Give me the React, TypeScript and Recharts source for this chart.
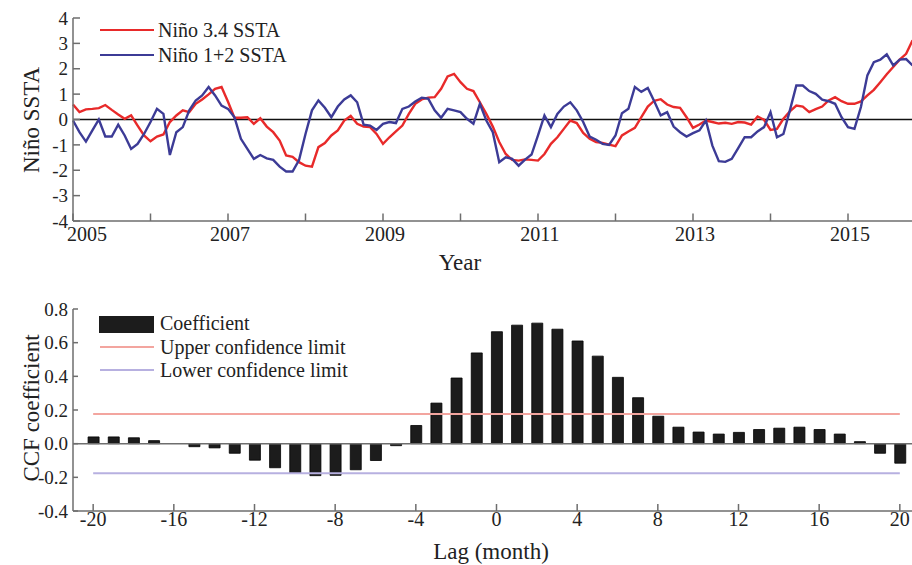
import { Bar, ComposedChart, Line, LineChart, ReferenceLine, XAxis, YAxis } from "recharts"

// monthly SSTA, Jan 2005 .. Nov 2015
const startYear = 2005
const nino34 = [
  0.59, 0.29, 0.4, 0.42, 0.45, 0.57, 0.38, 0.2, 0.03, 0.16,
  -0.24, -0.63, -0.86, -0.67, -0.59, -0.1, 0.16, 0.36, 0.29, 0.62,
  0.79, 0.99, 1.21, 1.28, 0.7, 0.07, 0.07, 0.09, -0.17, 0.05,
  -0.28, -0.5, -0.83, -1.42, -1.47, -1.68, -1.82, -1.86, -1.09, -0.93,
  -0.63, -0.43, -0.04, 0.14, -0.17, -0.28, -0.3, -0.57, -0.96, -0.7,
  -0.47, -0.24, 0.22, 0.62, 0.79, 0.86, 0.88, 1.21, 1.7, 1.8,
  1.47, 1.21, 1.12, 0.68, 0.22, -0.28, -0.89, -1.36, -1.59, -1.62,
  -1.57, -1.59, -1.62, -1.36, -0.96, -0.7, -0.37, -0.04, -0.14, -0.53,
  -0.76, -0.89, -0.92, -0.99, -1.05, -0.63, -0.47, -0.33, 0.09, 0.51,
  0.74, 0.8, 0.59, 0.49, 0.46, 0.09, -0.33, -0.2, -0.04, -0.1,
  -0.16, -0.13, -0.17, -0.1, -0.12, -0.2, 0.12, -0.01, -0.41, -0.37,
  0.03, 0.32, 0.55, 0.51, 0.29, 0.41, 0.51, 0.75, 0.88, 0.72,
  0.62, 0.62, 0.71, 0.95, 1.17, 1.47, 1.78, 2.07, 2.36, 2.59, 3.12,
]
const nino12 = [
  -0.04, -0.5, -0.87, -0.43, 0.0, -0.67, -0.67, -0.2, -0.63, -1.16,
  -0.96, -0.57, -0.1, 0.42, 0.22, -1.4, -0.5, -0.3, 0.36, 0.75,
  0.95, 1.28, 0.95, 0.55, 0.42, 0.09, -0.76, -1.16, -1.55, -1.4,
  -1.53, -1.59, -1.86, -2.05, -2.05, -1.6, -0.57, 0.36, 0.75, 0.46,
  0.09, 0.51, 0.79, 0.95, 0.68, -0.2, -0.24, -0.41, -0.17, -0.1,
  -0.14, 0.42, 0.51, 0.71, 0.86, 0.82, 0.36, 0.07, 0.42, 0.36,
  0.29, 0.03, -0.17, 0.62, -0.04, -0.5, -1.68, -1.49, -1.55, -1.82,
  -1.58, -1.38, -0.63, 0.16, -0.3, 0.22, 0.51, 0.68, 0.36, -0.1,
  -0.67, -0.8, -0.96, -1.0, -0.63, 0.25, 0.42, 1.28, 1.09, 1.24,
  0.72, 0.16, 0.29, -0.28, -0.5, -0.67, -0.54, -0.43, -0.04, -1.03,
  -1.64, -1.67, -1.55, -1.13, -0.7, -0.7, -0.47, -0.3, 0.29, -0.7,
  -0.57, 0.36, 1.34, 1.34, 1.12, 1.01, 0.78, 0.72, 0.62, 0.09,
  -0.3, -0.37, 0.49, 1.74, 2.26, 2.36, 2.57, 2.13, 2.36, 2.38, 2.13,
]
const yearTicks = [2005, 2006, 2007, 2008, 2009, 2010, 2011, 2012, 2013, 2014, 2015, 2016]
const sstaTicks = [-4, -3, -2, -1, 0, 1, 2, 3, 4]

const lags = [
  -20, -19, -18, -17, -16, -15, -14, -13, -12, -11, -10, -9, -8, -7, -6, -5, -4, -3, -2, -1,
  0, 1, 2, 3, 4, 5, 6, 7, 8, 9, 10, 11, 12, 13, 14, 15, 16, 17, 18, 19, 20,
]
const ccf = [
  0.04, 0.04, 0.035, 0.018, 0.0, -0.018, -0.025, -0.057, -0.098, -0.143, -0.175, -0.19, -0.188, -0.155, -0.1, -0.012, 0.108, 0.241, 0.39, 0.539,
  0.665, 0.704, 0.716, 0.68, 0.61, 0.52, 0.394, 0.273, 0.163, 0.098, 0.069, 0.057, 0.067, 0.084, 0.092, 0.098, 0.084, 0.057, 0.012, -0.057, -0.116,
]
const upperLimit = 0.176
const lowerLimit = -0.176
const lagTicks = [-20, -16, -12, -8, -4, 0, 4, 8, 12, 16, 20]
const ccfTicks = [-0.4, -0.2, 0, 0.2, 0.4, 0.6, 0.8]

const topData = nino34.map((v, i) => ({ t: startYear + i / 12, n34: v, n12: nino12[i] }))
const ccfData = lags.map((lag, i) => ({ lag, ccf: ccf[i], upper: upperLimit, lower: lowerLimit }))

const serif = "'Liberation Serif', 'Times New Roman', serif"
const axisColor = "#6e6e6e"
const textColor = "#222"
const red = "#e82a2a"
const blue = "#3c3b96"
const pink = "#f3a59f"
const lavender = "#b7b0e0"

function bottomTick(len: number, gap: number, fontSize: number, fmt: (v: number) => string, shift: (v: number) => number = () => 0) {
  return (props: any) => {
    const { x, y, payload } = props
    const label = fmt(payload.value)
    return (
      <g>
        <line x1={x} y1={y} x2={x} y2={y - len} stroke={axisColor} strokeWidth={1.5} />
        {label && (
          <text x={x + shift(payload.value)} y={y + gap} dy="0.71em" textAnchor="middle" fontFamily={serif} fontSize={fontSize} fill={textColor}>
            {label}
          </text>
        )}
      </g>
    )
  }
}

function leftTick(len: number, gap: number, fontSize: number, fmt: (v: number) => string) {
  return (props: any) => {
    const { x, y, payload } = props
    return (
      <g>
        <line x1={x} y1={y} x2={x + len} y2={y} stroke={axisColor} strokeWidth={1.5} />
        <text x={x - gap} y={y} dy="0.35em" textAnchor="end" fontFamily={serif} fontSize={fontSize} fill={textColor}>
          {fmt(payload.value)}
        </text>
      </g>
    )
  }
}

const txt = (left: number, top: number, size: number, s: string, rotate = false) => (
  <div
    style={{
      position: "absolute",
      left,
      top,
      transform: rotate ? "translate(-50%, -50%) rotate(-90deg)" : "translate(-50%, -50%)",
      fontFamily: serif,
      fontSize: size,
      color: textColor,
      whiteSpace: "nowrap",
      lineHeight: 1,
    }}
  >
    {s}
  </div>
)

const legendText = (left: number, top: number, s: string) => (
  <div
    style={{
      position: "absolute",
      left,
      top,
      transform: "translateY(-50%)",
      fontFamily: serif,
      fontSize: 20,
      color: textColor,
      whiteSpace: "nowrap",
      lineHeight: 1,
    }}
  >
    {s}
  </div>
)

const swatch = (top: number, color: string, h: number) => (
  <div style={{ position: "absolute", left: 100, top: top - h / 2, width: 54, height: h, background: color }} />
)

export default function App() {
  return (
    <div style={{ position: "absolute", left: 0, top: 0, width: 912, height: 565, overflow: "hidden", background: "#fff" }}>
      <div style={{ position: "absolute", left: 0, top: 0 }}>
        <LineChart width={940} height={260} data={topData} margin={{ top: 18, right: 14.5, bottom: 0, left: 33 }}>
          <XAxis
            dataKey="t"
            type="number"
            domain={[2005, 2016]}
            ticks={yearTicks}
            height={39}
            stroke={axisColor}
            strokeWidth={1.5}
            tickLine={false}
            tickSize={0}
            tickMargin={0}
            interval={0}
            tick={bottomTick(7.5, 6, 20, (v) => (v % 2 === 1 ? String(v) : ""), (v) => (v === 2005 ? 14 : 2))}
          />
          <YAxis
            type="number"
            domain={[-4, 4]}
            ticks={sstaTicks}
            width={40}
            stroke={axisColor}
            strokeWidth={1.5}
            tickLine={false}
            tickSize={0}
            tickMargin={0}
            interval={0}
            tick={leftTick(7, 5, 19, (v) => String(v))}
          />
          <ReferenceLine y={0} stroke="#111" strokeWidth={1.6} />
          <Line type="linear" dataKey="n34" stroke={red} strokeWidth={2.4} dot={false} isAnimationActive={false} />
          <Line type="linear" dataKey="n12" stroke={blue} strokeWidth={2.4} dot={false} isAnimationActive={false} />
        </LineChart>
      </div>

      {swatch(30, red, 2.5)}
      {legendText(158, 30, "Niño 3.4 SSTA")}
      {swatch(55, blue, 2.5)}
      {legendText(158, 55, "Niño 1+2 SSTA")}
      {txt(31, 120, 23, "Niño SSTA", true)}
      {txt(460, 262, 23, "Year")}

      <div style={{ position: "absolute", left: 0, top: 290 }}>
        <ComposedChart width={940} height={261} data={ccfData} margin={{ top: 19, right: 20, bottom: 0, left: 33 }}>
          <XAxis
            dataKey="lag"
            type="number"
            domain={[-21, 21]}
            ticks={lagTicks}
            height={40}
            stroke={axisColor}
            strokeWidth={1.5}
            tickLine={false}
            tickSize={0}
            tickMargin={0}
            interval={0}
            tick={bottomTick(7, 1, 20, (v) => String(v))}
          />
          <YAxis
            type="number"
            domain={[-0.4, 0.8]}
            ticks={ccfTicks}
            width={40}
            stroke={axisColor}
            strokeWidth={1.5}
            tickLine={false}
            tickSize={0}
            tickMargin={0}
            interval={0}
            tick={leftTick(5, 5, 19, (v) => v.toFixed(1))}
          />
          <ReferenceLine y={0} stroke={axisColor} strokeWidth={1.5} />
          <Bar dataKey="ccf" fill="#1c1c1c" stroke="#000" strokeWidth={0.8} barSize={11} isAnimationActive={false} />
          <Line type="linear" dataKey="upper" stroke={pink} strokeWidth={2} dot={false} isAnimationActive={false} />
          <Line type="linear" dataKey="lower" stroke={lavender} strokeWidth={2} dot={false} isAnimationActive={false} />
        </ComposedChart>
      </div>

      <div style={{ position: "absolute", left: 99, top: 316, width: 55, height: 17, background: "#1c1c1c" }} />
      {legendText(160, 323, "Coefficient")}
      {swatch(347, pink, 2)}
      {legendText(160, 347, "Upper confidence limit")}
      {swatch(370, lavender, 2)}
      {legendText(160, 370, "Lower confidence limit")}
      {txt(31, 408, 23, "CCF coefficient", true)}
      {txt(491, 551, 23, "Lag (month)")}
    </div>
  )
}
